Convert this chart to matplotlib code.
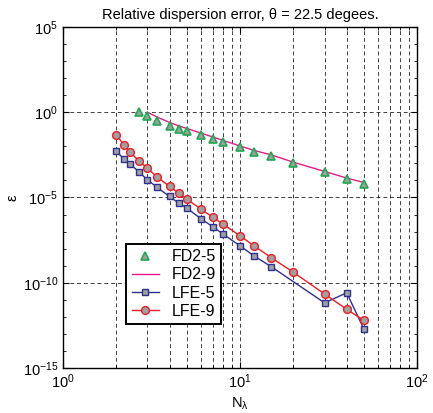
import matplotlib
matplotlib.use("Agg")
import matplotlib.pyplot as plt
import numpy as np
from matplotlib.ticker import LogLocator, NullFormatter, FixedLocator

plt.rcParams['font.family'] = ['Liberation Sans', 'DejaVu Sans']
plt.rcParams['mathtext.fontset'] = 'custom'
plt.rcParams['mathtext.rm'] = 'Liberation Sans'
plt.rcParams['mathtext.it'] = 'Liberation Sans'

# Data (log10 of error)
n_fd5 = [2.7, 3, 3.4, 4, 4.5, 5, 6, 7, 8, 10, 12, 15, 20, 30, 40, 50]
log_fd5 = [0.04, -0.21, -0.49, -0.78, -0.96, -1.09, -1.35, -1.56, -1.76, -2.06,
           -2.31, -2.56, -2.98, -3.53, -3.90, -4.18]

n_fd9 = [3, 3.4, 4, 4.5, 5, 6, 7, 8, 10, 12, 15, 20, 30, 40, 50]
log_fd9 = [0.0, -0.28, -0.6, -0.8, -0.95, -1.22, -1.45, -1.65, -1.98, -2.24,
           -2.5, -2.93, -3.47, -3.86, -4.12]

n_lfe5 = [2, 2.2, 2.4, 2.7, 3, 3.4, 4, 4.5, 5, 6, 7, 8, 10, 12, 15, 30, 40, 50]
log_lfe5 = [-2.29, -2.72, -3.04, -3.53, -3.96, -4.41, -4.94, -5.33, -5.62,
            -6.24, -6.71, -7.14, -7.84, -8.43, -9.06, -11.18, -10.59, -12.72]

n_lfe9 = [2, 2.2, 2.4, 2.7, 3, 3.4, 4, 4.5, 5, 6, 7, 8, 10, 12, 15, 20, 30, 40, 50]
log_lfe9 = [-1.31, -1.90, -2.35, -2.88, -3.29, -3.80, -4.35, -4.74, -5.09,
            -5.68, -6.15, -6.56, -7.25, -7.84, -8.53, -9.39, -10.66, -11.56, -12.21]

fig = plt.figure(figsize=(4.33, 4.13), dpi=100)
ax = fig.add_axes([0.1455, 0.109, 0.818, 0.8256])

gray = '#a0a0a0'
ax.plot(n_fd5, 10.0 ** np.array(log_fd5), linestyle='none', marker='^', ms=6.2,
        mfc=gray, mec='#1fa84f', mew=1.2, label='FD2-5', zorder=4)
ax.plot(n_fd9, 10.0 ** np.array(log_fd9), color='#e6198a', lw=1.0, label='FD2-9', zorder=3)
ax.plot(n_lfe5, 10.0 ** np.array(log_lfe5), color='#2e3192', lw=1.0, marker='s', ms=4.6,
        mfc=gray, mec='#2e3192', mew=1.0, label='LFE-5', zorder=3)
ax.plot(n_lfe9, 10.0 ** np.array(log_lfe9), color='#ed1c24', lw=1.0, marker='o', ms=5.6,
        mfc=gray, mec='#ed1c24', mew=1.0, label='LFE-9', zorder=3)

ax.set_xscale('log')
ax.set_yscale('log')
ax.set_xlim(1, 100)
ax.set_ylim(1e-15, 1e5)

ax.yaxis.set_major_locator(FixedLocator([1e-15, 1e-10, 1e-5, 1e0, 1e5]))
ax.yaxis.set_minor_locator(FixedLocator([10.0 ** k for k in range(-15, 6)]))
ax.yaxis.set_minor_formatter(NullFormatter())
ax.xaxis.set_minor_locator(LogLocator(base=10, subs=np.arange(2, 10)))
ax.xaxis.set_minor_formatter(NullFormatter())

ax.tick_params(which='both', direction='in', top=True, right=True, labelsize=10.5)
ax.tick_params(which='major', length=4)
ax.tick_params(which='minor', length=2.5)

grid_kw = dict(color='black', linestyle=(0, (4, 3)), linewidth=0.7, alpha=0.75)
ax.xaxis.grid(True, which='both', **grid_kw)
ax.yaxis.grid(True, which='major', **grid_kw)
ax.set_axisbelow(True)

for s in ax.spines.values():
    s.set_linewidth(1.0)

ax.set_title('Relative dispersion error, \u03b8 = 22.5 degees.', fontsize=10.5, pad=6)
ax.set_xlabel('N$_\\lambda$', fontsize=10.5, labelpad=3)
ax.set_ylabel('\u03b5', fontsize=10.5, labelpad=2)

leg = ax.legend(loc='lower left', bbox_to_anchor=(0.178, 0.128), fontsize=11.5,
                fancybox=False, framealpha=1, edgecolor='black', borderpad=0.35,
                handlelength=1.7, handletextpad=0.8, labelspacing=0.2, borderaxespad=0)
leg.get_frame().set_linewidth(1.4)

fig.savefig('out.png', dpi=100)
